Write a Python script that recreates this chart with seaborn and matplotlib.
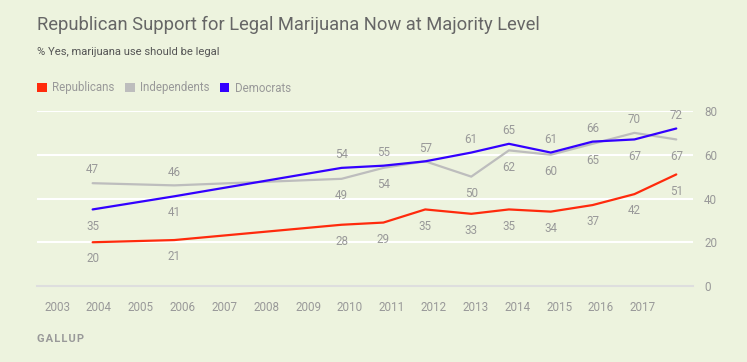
import pandas as pd
import matplotlib.pyplot as plt
import seaborn as sns
from matplotlib.patches import Patch

# Data (Gallup, % saying marijuana use should be legal)
years = [2003.85, 2005.8, 2009.8, 2010.8, 2011.8, 2012.9, 2013.8, 2014.8, 2015.8, 2016.8, 2017.8]
republicans = [20, 21, 28, 29, 35, 33, 35, 34, 37, 42, 51]
independents = [47, 46, 49, 54, 57, 50, 62, 60, 65, 70, 67]
democrats = [35, 41, 54, 55, 57, 61, 65, 61, 66, 67, 72]
tick_years = list(range(2003, 2018))
y_ticks = [0, 20, 40, 60, 80]

series = ['Republicans', 'Independents', 'Democrats']
colors = {'Republicans': '#FF2A0C', 'Independents': '#BDBDBD', 'Democrats': '#3300FF'}

BG = '#EDF3DE'
TXT = '#999999'

sns.set_style('white', {'axes.facecolor': BG, 'figure.facecolor': BG})
plt.rcParams['font.family'] = ['Roboto', 'DejaVu Sans']

df = pd.DataFrame({
    'year': years * 3,
    'pct': republicans + independents + democrats,
    'party': [s for s in series for _ in years],
})

fig = plt.figure(figsize=(7.47, 3.62), dpi=100)
ax = fig.add_axes([37 / 747, 1 - 286 / 362, 656 / 747, 175 / 362])

sns.lineplot(data=df, x='year', y='pct', hue='party', hue_order=series,
             palette=colors, linewidth=1.6, legend=False, ax=ax, zorder=3)

ax.set_xlim(2002.52, 2018.2)
ax.set_ylim(0, 80)
ax.set_xticks(tick_years)
ax.set_xticklabels([str(y) for y in tick_years])
ax.set_yticks(y_ticks)
ax.yaxis.tick_right()
ax.set_xlabel('')
ax.set_ylabel('')
ax.grid(axis='y', color='white', linewidth=1.5, zorder=1)
ax.grid(axis='x', visible=False)
for s in ['left', 'right', 'top']:
    ax.spines[s].set_visible(False)
ax.spines['bottom'].set_color('#DEDEDE')
ax.spines['bottom'].set_linewidth(1.5)
ax.tick_params(axis='x', direction='out', length=7, width=1.3, color='#DEDEDE',
               labelsize=8.4, labelcolor=TXT, pad=3.8)
ax.tick_params(axis='y', length=0, labelsize=8.4, labelcolor=TXT, pad=8)


def label(x, v, above):
    off = 9.5 if above else -12
    ax.annotate(str(v), (x, v), xytext=(0, off), textcoords='offset points',
                ha='center', va='center', fontsize=8.4, color=TXT)


for x, r, i, d in zip(years, republicans, independents, democrats):
    label(x, r, False)
    if d == i:
        label(x, d, True)
    else:
        label(x, d, d > i)
        label(x, i, i > d)

# titles
fig.text(37 / 747, 1 - 25 / 362, 'Republican Support for Legal Marijuana Now at Majority Level',
         fontsize=13.2, color='#666666', va='center', ha='left')
fig.text(37 / 747, 1 - 52 / 362, '% Yes, marijuana use should be legal',
         fontsize=8.1, color='#555555', va='center', ha='left')

handles = [Patch(facecolor=colors[s], edgecolor='none') for s in series]
fig.legend(handles, series, loc='center left', bbox_to_anchor=(37 / 747, 1 - 88 / 362),
           ncol=3, frameon=False, fontsize=8.3, labelcolor=TXT,
           handlelength=0.85, handleheight=0.85, handletextpad=0.45,
           columnspacing=0.9, borderaxespad=0, borderpad=0)

fig.text(37 / 747, 1 - 339 / 362, 'G A L L U P'.replace(' ', '\u200a'),
         fontsize=8, fontweight='bold', color=TXT, va='center', ha='left')

fig.savefig('out.png', dpi=100, facecolor=BG)
